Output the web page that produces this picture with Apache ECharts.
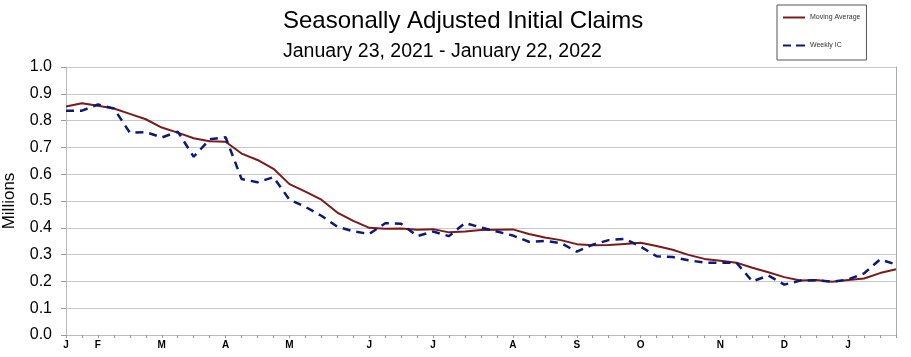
<!DOCTYPE html>
<html>
<head>
<meta charset="utf-8">
<script src="https://cdn.jsdelivr.net/npm/echarts@6/dist/echarts.min.js"></script>
<style>
html,body{margin:0;padding:0;background:#fff;}
#chart{width:911px;height:357px;}
</style>
</head>
<body>
<div id="chart"></div>
<script>
var weeks = ["2021-01-23","2021-01-30","2021-02-06","2021-02-13","2021-02-20","2021-02-27",
"2021-03-06","2021-03-13","2021-03-20","2021-03-27","2021-04-03","2021-04-10","2021-04-17","2021-04-24",
"2021-05-01","2021-05-08","2021-05-15","2021-05-22","2021-05-29","2021-06-05","2021-06-12","2021-06-19","2021-06-26",
"2021-07-03","2021-07-10","2021-07-17","2021-07-24","2021-07-31","2021-08-07","2021-08-14","2021-08-21","2021-08-28",
"2021-09-04","2021-09-11","2021-09-18","2021-09-25","2021-10-02","2021-10-09","2021-10-16","2021-10-23","2021-10-30",
"2021-11-06","2021-11-13","2021-11-20","2021-11-27","2021-12-04","2021-12-11","2021-12-18","2021-12-25",
"2022-01-01","2022-01-08","2022-01-15","2022-01-22"];

var monthInitials = ["J","F","M","A","M","J","J","A","S","O","N","D"];

var yTicks = [0.0,0.1,0.2,0.3,0.4,0.5,0.6,0.7,0.8,0.9,1.0];

var weeklyIC = [0.837,0.837,0.860,0.845,0.755,0.757,0.737,0.759,0.665,0.730,
0.738,0.582,0.570,0.589,0.505,0.478,0.445,0.404,0.387,0.377,
0.417,0.415,0.369,0.386,0.369,0.418,0.401,0.386,0.371,0.348,
0.351,0.343,0.311,0.337,0.354,0.359,0.330,0.294,0.291,0.279,
0.270,0.270,0.270,0.200,0.222,0.188,0.203,0.204,0.199,0.207,
0.230,0.282,0.263];

var movingAverage = [0.853,0.865,0.855,0.845,0.825,0.805,0.774,0.755,0.734,0.723,
0.721,0.677,0.653,0.620,0.563,0.535,0.505,0.457,0.426,0.400,
0.396,0.397,0.393,0.395,0.383,0.386,0.392,0.393,0.394,0.377,
0.364,0.354,0.339,0.335,0.336,0.340,0.344,0.332,0.318,0.299,
0.284,0.277,0.270,0.251,0.234,0.216,0.203,0.205,0.199,0.205,
0.211,0.231,0.245];

function monthOf(i){ return parseInt(weeks[i].substr(5,2),10)-1; }
function isMonthStart(i){ return i === 0 || monthOf(i) !== monthOf(i-1); }

var chart = echarts.init(document.getElementById('chart'), null, {renderer:'canvas'});
var FONT = '"Liberation Sans", Arial, sans-serif';
var MA_COLOR = '#7a1a1a', IC_COLOR = '#0b1a78';
chart.setOption({
  animation:false,
  backgroundColor:'#ffffff',
  title:[
    {text:'Seasonally Adjusted Initial Claims', left:278, top:4,
     textStyle:{fontFamily:FONT, fontSize:24, fontWeight:'normal', color:'#000'}},
    {text:'January 23, 2021 - January 22, 2022', left:278, top:37,
     textStyle:{fontFamily:FONT, fontSize:19.5, fontWeight:'normal', color:'#000'}}
  ],
  legend:{
    orient:'vertical', left:777, top:5,
    padding:[9,6,11,6], itemGap:21,
    borderColor:'#555', borderWidth:1,
    itemWidth:22, itemHeight:8,
    textStyle:{fontFamily:FONT, fontSize:7, color:'#333'},
    data:[
      {name:'Moving Average', icon:'path://M0,3H22V5H0Z', itemStyle:{color:MA_COLOR}},
      {name:'Weekly IC', icon:'path://M0,3H8V5H0Z M13,3H22V5H13Z', itemStyle:{color:IC_COLOR}}
    ]
  },
  grid:{left:66, right:15, top:67, bottom:22, containLabel:false, outerBoundsMode:'none'},
  xAxis:{
    type:'category', data:weeks, boundaryGap:false,
    axisLine:{show:true, lineStyle:{color:'#bbbbbb', width:1}},
    axisTick:{show:true, interval:0, length:3, lineStyle:{color:'#999'}},
    axisLabel:{
      interval:function(i){ return isMonthStart(i); },
      formatter:function(v, i){ return monthInitials[monthOf(i)]; },
      fontFamily:FONT, fontSize:10, fontWeight:'bold', color:'#000', margin:5
    },
    splitLine:{show:false}
  },
  yAxis:[{
    type:'value', min:0, max:1, interval:0.1,
    name:'Millions', nameLocation:'middle', nameGap:48, nameRotate:90,
    nameTextStyle:{fontFamily:FONT, fontSize:17, color:'#000'},
    axisLine:{show:true, lineStyle:{color:'#bbbbbb'}},
    axisTick:{show:true, length:5, lineStyle:{color:'#999'}},
    axisLabel:{fontFamily:FONT, fontSize:16, color:'#000', margin:14,
      formatter:function(v){ return yTicks[Math.round(v*10)].toFixed(1); }},
    splitLine:{show:true, lineStyle:{color:'#c8c8c8', width:1}}
  },{
    type:'value', min:0, max:1, interval:0.1, position:'right',
    axisLine:{show:true, lineStyle:{color:'#aaaaaa'}},
    axisTick:{show:false}, axisLabel:{show:false}, splitLine:{show:false}
  }],
  series:[
    {name:'Moving Average', type:'line', data:movingAverage, symbol:'none', showSymbol:false,
     lineStyle:{color:MA_COLOR, width:2}, itemStyle:{color:MA_COLOR}, z:2},
    {name:'Weekly IC', type:'line', data:weeklyIC, symbol:'none', showSymbol:false,
     lineStyle:{color:IC_COLOR, width:2.5, type:[8,6]}, itemStyle:{color:IC_COLOR}, z:3}
  ]
});
</script>
</body>
</html>
